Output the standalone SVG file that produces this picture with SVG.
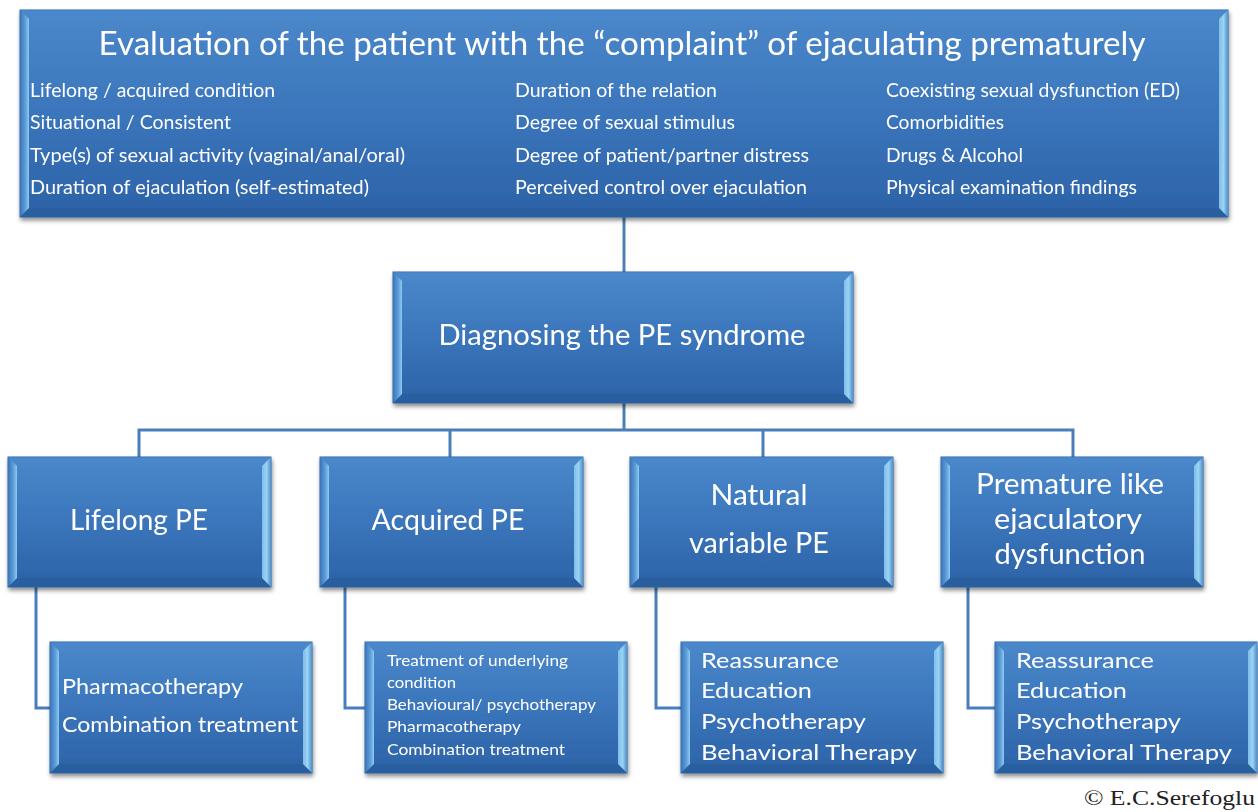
<svg xmlns="http://www.w3.org/2000/svg" width="1258" height="812" viewBox="0 0 1258 812">
<defs>
<linearGradient id="gBase" x1="0" y1="0" x2="0" y2="1">
<stop offset="0" stop-color="#4a88ca"/>
<stop offset="0.5" stop-color="#3b75bb"/>
<stop offset="1" stop-color="#2c62a7"/>
</linearGradient>
<linearGradient id="gLeft" x1="0" y1="0" x2="1" y2="0">
<stop offset="0" stop-color="#3b74b8"/>
<stop offset="0.6" stop-color="#5d9fda"/>
<stop offset="1" stop-color="#8fcbf0"/>
</linearGradient>
<linearGradient id="gRight" x1="0" y1="0" x2="1" y2="0">
<stop offset="0" stop-color="#7fbde9"/>
<stop offset="0.5" stop-color="#9ad3f3"/>
<stop offset="1" stop-color="#4f8fcd"/>
</linearGradient>
<filter id="sh" x="-5%" y="-5%" width="110%" height="115%">
<feDropShadow dx="1" dy="3" stdDeviation="2" flood-color="#000" flood-opacity="0.45"/>
</filter>
</defs>
<style>
.base{fill:url(#gBase);stroke:#2f64a3;stroke-width:1}
.bl{fill:url(#gLeft)}
.br{fill:url(#gRight)}
.bt{fill:#4a89cb;opacity:0.6}
.bb{fill:#2a5c9c;opacity:0.8}
.conn{fill:none;stroke:#4a7ebb;stroke-width:3}
text{font-family:Lato,"Open Sans","Liberation Sans",sans-serif;fill:#ffffff}
.t1{font-size:33px;text-anchor:middle}
.li{font-size:19px}
.big{font-size:29px;text-anchor:middle}
.sub{font-size:22px}
.sm{font-size:16px}
.copy{font-family:"Liberation Serif","DejaVu Serif",serif;fill:#222;font-size:22px}
</style>
<rect width="1258" height="812" fill="#ffffff"/>
<g id="connectors">
<path class="conn" d="M624,217 V272"/>
<path class="conn" d="M624,403 V430"/>
<path class="conn" d="M139,457 V430 H1073 V457"/>
<path class="conn" d="M450,430 V457"/>
<path class="conn" d="M763,430 V457"/>
<path class="conn" d="M36,587 V708 H50"/>
<path class="conn" d="M345,587 V708 H365"/>
<path class="conn" d="M656,587 V708 H681"/>
<path class="conn" d="M968,587 V708 H995"/>
</g>
<g id="evaluation" filter="url(#sh)">
<rect class="base" x="20" y="10" width="1208" height="207"/>
<polygon class="bt" points="20,10 1228,10 1219,19 29,19"/>
<polygon class="bb" points="20,217 1228,217 1219,208 29,208"/>
<polygon class="bl" points="20,10 29,19 29,208 20,217"/>
<polygon class="br" points="1228,10 1219,19 1219,208 1228,217"/>
<text class="t1" x="622" y="55" textLength="1047" lengthAdjust="spacingAndGlyphs">Evaluation of the patient with the “complaint” of ejaculating prematurely</text>
<text class="li" x="30" y="97" textLength="245" lengthAdjust="spacingAndGlyphs">Lifelong / acquired condition</text>
<text class="li" x="30" y="129" textLength="201" lengthAdjust="spacingAndGlyphs">Situational / Consistent</text>
<text class="li" x="30" y="162" textLength="375" lengthAdjust="spacingAndGlyphs">Type(s) of sexual activity (vaginal/anal/oral)</text>
<text class="li" x="30" y="194" textLength="339" lengthAdjust="spacingAndGlyphs">Duration of ejaculation (self-estimated)</text>
<text class="li" x="515" y="97" textLength="202" lengthAdjust="spacingAndGlyphs">Duration of the relation</text>
<text class="li" x="515" y="129" textLength="220" lengthAdjust="spacingAndGlyphs">Degree of sexual stimulus</text>
<text class="li" x="515" y="162" textLength="294" lengthAdjust="spacingAndGlyphs">Degree of patient/partner distress</text>
<text class="li" x="515" y="194" textLength="292" lengthAdjust="spacingAndGlyphs">Perceived control over ejaculation</text>
<text class="li" x="886" y="97" textLength="294" lengthAdjust="spacingAndGlyphs">Coexisting sexual dysfunction (ED)</text>
<text class="li" x="886" y="129" textLength="118" lengthAdjust="spacingAndGlyphs">Comorbidities</text>
<text class="li" x="886" y="162" textLength="137" lengthAdjust="spacingAndGlyphs">Drugs &amp; Alcohol</text>
<text class="li" x="886" y="194" textLength="251" lengthAdjust="spacingAndGlyphs">Physical examination findings</text>
</g>
<g id="diagnosing" filter="url(#sh)">
<rect class="base" x="393" y="272" width="460" height="131"/>
<polygon class="bt" points="393,272 853,272 844,281 402,281"/>
<polygon class="bb" points="393,403 853,403 844,394 402,394"/>
<polygon class="bl" points="393,272 402,281 402,394 393,403"/>
<polygon class="br" points="853,272 844,281 844,394 853,403"/>
<text class="big" x="622" y="345" textLength="367" lengthAdjust="spacingAndGlyphs">Diagnosing the PE syndrome</text>
</g>
<g id="lifelong" filter="url(#sh)">
<rect class="base" x="8" y="457" width="263" height="130"/>
<polygon class="bt" points="8,457 271,457 262,466 17,466"/>
<polygon class="bb" points="8,587 271,587 262,578 17,578"/>
<polygon class="bl" points="8,457 17,466 17,578 8,587"/>
<polygon class="br" points="271,457 262,466 262,578 271,587"/>
<text class="big" x="139" y="530" textLength="138" lengthAdjust="spacingAndGlyphs">Lifelong PE</text>
</g>
<g id="acquired" filter="url(#sh)">
<rect class="base" x="320" y="457" width="263" height="130"/>
<polygon class="bt" points="320,457 583,457 574,466 329,466"/>
<polygon class="bb" points="320,587 583,587 574,578 329,578"/>
<polygon class="bl" points="320,457 329,466 329,578 320,587"/>
<polygon class="br" points="583,457 574,466 574,578 583,587"/>
<text class="big" x="448" y="530" textLength="153" lengthAdjust="spacingAndGlyphs">Acquired PE</text>
</g>
<g id="natural" filter="url(#sh)">
<rect class="base" x="630" y="457" width="263" height="130"/>
<polygon class="bt" points="630,457 893,457 884,466 639,466"/>
<polygon class="bb" points="630,587 893,587 884,578 639,578"/>
<polygon class="bl" points="630,457 639,466 639,578 630,587"/>
<polygon class="br" points="893,457 884,466 884,578 893,587"/>
<text class="big" x="759" y="505" textLength="97" lengthAdjust="spacingAndGlyphs">Natural</text>
<text class="big" x="759" y="553" textLength="140" lengthAdjust="spacingAndGlyphs">variable PE</text>
</g>
<g id="premature" filter="url(#sh)">
<rect class="base" x="941" y="457" width="262" height="130"/>
<polygon class="bt" points="941,457 1203,457 1194,466 950,466"/>
<polygon class="bb" points="941,587 1203,587 1194,578 950,578"/>
<polygon class="bl" points="941,457 950,466 950,578 941,587"/>
<polygon class="br" points="1203,457 1194,466 1194,578 1203,587"/>
<text class="big" x="1070" y="494" textLength="188" lengthAdjust="spacingAndGlyphs">Premature like</text>
<text class="big" x="1068" y="529" textLength="148" lengthAdjust="spacingAndGlyphs">ejaculatory</text>
<text class="big" x="1070" y="564" textLength="151" lengthAdjust="spacingAndGlyphs">dysfunction</text>
</g>
<g id="lifelong-treatment" filter="url(#sh)">
<rect class="base" x="50" y="642" width="262" height="131"/>
<polygon class="bt" points="50,642 312,642 303,651 59,651"/>
<polygon class="bb" points="50,773 312,773 303,764 59,764"/>
<polygon class="bl" points="50,642 59,651 59,764 50,773"/>
<polygon class="br" points="312,642 303,651 303,764 312,773"/>
<text class="sub" x="62" y="694" textLength="181" lengthAdjust="spacingAndGlyphs">Pharmacotherapy</text>
<text class="sub" x="62" y="732" textLength="236" lengthAdjust="spacingAndGlyphs">Combination treatment</text>
</g>
<g id="acquired-treatment" filter="url(#sh)">
<rect class="base" x="365" y="642" width="262" height="131"/>
<polygon class="bt" points="365,642 627,642 618,651 374,651"/>
<polygon class="bb" points="365,773 627,773 618,764 374,764"/>
<polygon class="bl" points="365,642 374,651 374,764 365,773"/>
<polygon class="br" points="627,642 618,651 618,764 627,773"/>
<text class="sm" x="387" y="666" textLength="181" lengthAdjust="spacingAndGlyphs">Treatment of underlying</text>
<text class="sm" x="387" y="688" textLength="69" lengthAdjust="spacingAndGlyphs">condition</text>
<text class="sm" x="387" y="710" textLength="209" lengthAdjust="spacingAndGlyphs">Behavioural/ psychotherapy</text>
<text class="sm" x="387" y="732" textLength="134" lengthAdjust="spacingAndGlyphs">Pharmacotherapy</text>
<text class="sm" x="387" y="755" textLength="178" lengthAdjust="spacingAndGlyphs">Combination treatment</text>
</g>
<g id="natural-treatment" filter="url(#sh)">
<rect class="base" x="681" y="642" width="262" height="131"/>
<polygon class="bt" points="681,642 943,642 934,651 690,651"/>
<polygon class="bb" points="681,773 943,773 934,764 690,764"/>
<polygon class="bl" points="681,642 690,651 690,764 681,773"/>
<polygon class="br" points="943,642 934,651 934,764 943,773"/>
<text class="sub" x="701" y="668" textLength="138" lengthAdjust="spacingAndGlyphs">Reassurance</text>
<text class="sub" x="701" y="698" textLength="111" lengthAdjust="spacingAndGlyphs">Education</text>
<text class="sub" x="701" y="729" textLength="165" lengthAdjust="spacingAndGlyphs">Psychotherapy</text>
<text class="sub" x="701" y="760" textLength="216" lengthAdjust="spacingAndGlyphs">Behavioral Therapy</text>
</g>
<g id="premature-treatment" filter="url(#sh)">
<rect class="base" x="995" y="642" width="262" height="131"/>
<polygon class="bt" points="995,642 1257,642 1248,651 1004,651"/>
<polygon class="bb" points="995,773 1257,773 1248,764 1004,764"/>
<polygon class="bl" points="995,642 1004,651 1004,764 995,773"/>
<polygon class="br" points="1257,642 1248,651 1248,764 1257,773"/>
<text class="sub" x="1016" y="668" textLength="138" lengthAdjust="spacingAndGlyphs">Reassurance</text>
<text class="sub" x="1016" y="698" textLength="111" lengthAdjust="spacingAndGlyphs">Education</text>
<text class="sub" x="1016" y="729" textLength="165" lengthAdjust="spacingAndGlyphs">Psychotherapy</text>
<text class="sub" x="1016" y="760" textLength="216" lengthAdjust="spacingAndGlyphs">Behavioral Therapy</text>
</g>
<text class="copy" x="1084" y="805" textLength="171" lengthAdjust="spacingAndGlyphs">© E.C.Serefoglu</text>
</svg>
